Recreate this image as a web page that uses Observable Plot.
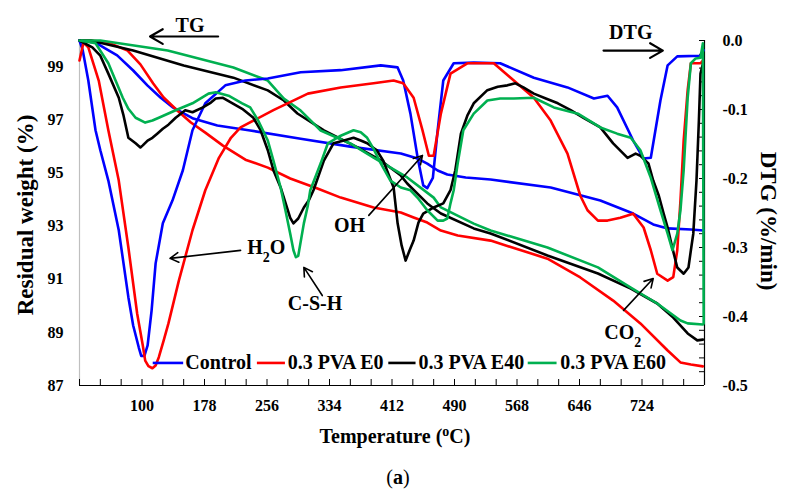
<!DOCTYPE html>
<html><head><meta charset="utf-8">
<script src="https://cdn.jsdelivr.net/npm/d3@7"></script>
<script src="https://cdn.jsdelivr.net/npm/@observablehq/plot@0.6"></script>
<style>body{margin:0;background:#fff} svg{display:block}</style>
</head><body><div id="chart"></div>
<script>
// ---- TG (residual weight, %) ----
const tgControlT = [22, 32, 42, 54, 69, 89, 107, 123, 139, 164, 194, 235, 298, 360, 423, 444, 456, 469, 481, 504, 535, 610, 672, 713, 738, 756, 785, 801];
const tgControlW = [100, 99.96, 99.92, 99.70, 99.44, 98.87, 98.30, 97.85, 97.47, 97.06, 96.80, 96.61, 96.30, 96.00, 95.74, 95.55, 95.36, 95.10, 94.95, 94.84, 94.76, 94.46, 93.97, 93.48, 93.07, 92.92, 92.88, 92.84];
const tgE0T = [22, 36, 58, 82, 98, 114, 127, 144, 161, 179, 201, 229, 257, 285, 319, 348, 389, 423, 439, 456, 473, 494, 535, 606, 647, 688, 722, 756, 772, 785, 800];
const tgE0W = [100, 100, 99.92, 99.62, 99.10, 98.38, 97.85, 97.36, 96.91, 96.53, 96.04, 95.51, 95.21, 94.80, 94.42, 94.08, 93.71, 93.52, 93.33, 93.14, 92.84, 92.65, 92.46, 91.78, 91.07, 90.20, 89.34, 88.32, 87.87, 87.79, 87.72];
const tgE40T = [22, 36, 89, 152, 214, 257, 277, 294, 327, 369, 398, 423, 431, 456, 473, 514, 535, 606, 669, 710, 743, 763, 781, 793, 800];
const tgE40W = [100, 100, 99.62, 99.06, 98.60, 98.12, 97.74, 97.25, 96.61, 95.97, 95.48, 94.91, 94.61, 93.86, 93.48, 92.92, 92.73, 91.90, 91.22, 90.65, 90.09, 89.56, 88.96, 88.70, 88.73];
const tgE60T = [22, 48, 132, 214, 257, 277, 298, 323, 360, 389, 431, 464, 473, 514, 535, 606, 669, 710, 743, 772, 781, 800];
const tgE60W = [100, 100, 99.62, 98.98, 98.49, 97.81, 97.36, 96.61, 96.12, 95.59, 94.84, 94.08, 93.71, 93.10, 92.84, 92.20, 91.45, 90.69, 90.09, 89.45, 89.34, 89.30];

// ---- DTG (%/min) ----
const dtgControlT = [22, 26, 33, 42, 48, 58, 71, 83, 89, 96, 99, 103, 107, 112, 117, 126, 138, 151, 163, 179, 204, 229, 257, 298, 348, 398, 419, 426, 435, 444, 451, 456, 463, 469, 476, 489, 514, 547, 589, 631, 664, 681, 693, 713, 726, 735, 747, 756, 768, 797, 801];
const dtgControlD = [0, -0.014, -0.058, -0.130, -0.159, -0.203, -0.275, -0.372, -0.413, -0.445, -0.457, -0.457, -0.442, -0.391, -0.323, -0.265, -0.232, -0.188, -0.130, -0.091, -0.065, -0.058, -0.055, -0.046, -0.043, -0.036, -0.039, -0.058, -0.106, -0.170, -0.210, -0.214, -0.199, -0.130, -0.058, -0.033, -0.032, -0.033, -0.054, -0.068, -0.084, -0.080, -0.097, -0.145, -0.171, -0.170, -0.087, -0.036, -0.023, -0.022, -0.014];
const dtgE0T = [22, 27, 33, 46, 58, 71, 83, 94, 101, 104, 108, 113, 117, 121, 127, 133, 146, 163, 179, 196, 211, 223, 264, 307, 348, 389, 414, 426, 439, 450, 458, 464, 473, 485, 506, 539, 560, 589, 610, 631, 647, 656, 669, 681, 697, 713, 726, 735, 743, 756, 763, 768, 772, 776, 781, 785, 797, 800];
const dtgE0D = [-0.029, -0.003, -0.010, -0.058, -0.130, -0.203, -0.300, -0.396, -0.442, -0.464, -0.472, -0.475, -0.471, -0.459, -0.435, -0.410, -0.348, -0.275, -0.217, -0.170, -0.141, -0.126, -0.101, -0.077, -0.068, -0.062, -0.058, -0.062, -0.083, -0.130, -0.167, -0.167, -0.106, -0.048, -0.033, -0.033, -0.054, -0.083, -0.116, -0.164, -0.225, -0.246, -0.261, -0.261, -0.257, -0.251, -0.271, -0.304, -0.338, -0.348, -0.343, -0.304, -0.232, -0.145, -0.072, -0.033, -0.033, -0.029];
const dtgE40T = [22, 38, 48, 58, 71, 77, 83, 92, 98, 101, 107, 113, 119, 126, 133, 142, 154, 163, 176, 186, 192, 201, 213, 225, 239, 248, 257, 264, 273, 285, 289, 295, 302, 308, 314, 327, 339, 352, 364, 373, 381, 393, 401, 414, 419, 424, 429, 434, 439, 445, 451, 464, 476, 485, 491, 498, 506, 514, 531, 544, 556, 566, 576, 589, 604, 619, 635, 651, 672, 688, 706, 716, 722, 732, 738, 745, 751, 756, 762, 768, 776, 782, 785, 788, 792, 795, 797, 801];
const dtgE40D = [0, -0.010, -0.022, -0.048, -0.083, -0.109, -0.141, -0.149, -0.155, -0.152, -0.145, -0.141, -0.135, -0.128, -0.122, -0.112, -0.101, -0.104, -0.097, -0.090, -0.084, -0.083, -0.091, -0.099, -0.112, -0.130, -0.159, -0.188, -0.213, -0.257, -0.265, -0.258, -0.242, -0.232, -0.217, -0.174, -0.149, -0.145, -0.141, -0.145, -0.149, -0.159, -0.174, -0.213, -0.265, -0.297, -0.319, -0.304, -0.290, -0.264, -0.251, -0.242, -0.236, -0.217, -0.188, -0.135, -0.109, -0.091, -0.072, -0.067, -0.065, -0.062, -0.068, -0.077, -0.084, -0.091, -0.101, -0.112, -0.126, -0.149, -0.170, -0.164, -0.167, -0.178, -0.203, -0.225, -0.251, -0.271, -0.301, -0.329, -0.338, -0.329, -0.304, -0.280, -0.203, -0.116, -0.048, -0.029];
const dtgE60T = [22, 42, 58, 67, 76, 83, 92, 104, 113, 121, 142, 163, 183, 192, 208, 225, 235, 245, 257, 264, 273, 279, 285, 289, 292, 295, 302, 307, 310, 317, 323, 332, 348, 364, 373, 381, 389, 398, 410, 423, 435, 444, 456, 469, 476, 481, 485, 489, 494, 501, 514, 531, 547, 564, 589, 614, 644, 672, 693, 710, 722, 735, 747, 756, 762, 768, 772, 776, 781, 785, 791, 797, 800, 801];
const dtgE60D = [0, -0.004, -0.033, -0.058, -0.083, -0.099, -0.112, -0.119, -0.116, -0.112, -0.101, -0.091, -0.077, -0.075, -0.080, -0.091, -0.097, -0.116, -0.145, -0.174, -0.213, -0.246, -0.280, -0.304, -0.314, -0.312, -0.265, -0.239, -0.217, -0.196, -0.178, -0.149, -0.138, -0.130, -0.133, -0.141, -0.157, -0.178, -0.203, -0.213, -0.217, -0.228, -0.246, -0.261, -0.261, -0.258, -0.236, -0.217, -0.178, -0.130, -0.106, -0.087, -0.084, -0.084, -0.083, -0.097, -0.106, -0.126, -0.135, -0.141, -0.159, -0.199, -0.246, -0.280, -0.304, -0.280, -0.246, -0.188, -0.083, -0.033, -0.026, -0.025, -0.004, -0.410];

// ---- axes ----
const xTickValues = d3.range(22, 803, 26);
const xTickLabels = [100, 178, 256, 334, 412, 490, 568, 646, 724];
const yTickLabels = [87, 89, 91, 93, 95, 97, 99];
const dtgTickLabels = [0, -0.1, -0.2, -0.3, -0.4, -0.5];
const dtgMinorTicks = d3.range(0, 26).map(i => -i * 0.02);

// legend & annotations
const seriesNames = ["Control", "0.3 PVA E0", "0.3 PVA E40", "0.3 PVA E60"];
const seriesColors = ["#0000ff", "#ff0000", "#000000", "#00b050"];
const legendLineX1 = [114, 244, 408, 582];
const legendLineX2 = [152, 279, 442, 618];
const legendTextX = [154, 282, 445, 622];
const legendY = 87.85;

const annLabels = ["TG", "DTG", "H2O", "C-S-H", "OH", "CO2"];
const annX = [160, 710, 255, 316, 359, 700];
const annY = [100.56, 100.3, 92.2, 90.09, 93.03, 89.0];
const arrX1 = [195, 676, 223, 325, 383, 701];
const arrY1 = [100.15, 99.62, 92.09, 90.39, 93.41, 89.83];
const arrX2 = [110, 750, 135, 302, 450, 738];
const arrY2 = [100.15, 99.62, 91.79, 91.45, 95.67, 91.03];

// right-axis mapping: DTG [-0.5, 0] onto the weight axis [87, 100]
const toW = d => 87 + (d + 0.5) * 26;
const fromW = w => (w - 87) / 26 - 0.5;

const zip = (T, V, f = v => v) => T.map((t, i) => ({t, v: f(V[i])}));
const tgSeries = [zip(tgControlT, tgControlW), zip(tgE0T, tgE0W), zip(tgE40T, tgE40W), zip(tgE60T, tgE60W)];
const dtgSeries = [zip(dtgControlT, dtgControlD, toW), zip(dtgE0T, dtgE0D, toW), zip(dtgE40T, dtgE40D, toW), zip(dtgE60T, dtgE60D, toW)];

const legend = seriesNames.map((n, i) => ({n, c: seriesColors[i], x1: legendLineX1[i], x2: legendLineX2[i], xt: legendTextX[i], y: legendY}));
const anns = annLabels.map((l, i) => ({l, x: annX[i], y: annY[i]}));
const arrows = arrX1.map((x1, i) => ({x1, y1: arrY1[i], x2: arrX2[i], y2: arrY2[i], big: i < 2}));

const FONT = "Liberation Serif";
const W = 794, H = 495, ML = 79, MR = 90, MT = 40, MB = 110;
const plotW = W - ML - MR, plotH = H - MT - MB;

const marks = [];
marks.push(Plot.ruleX([22], {stroke: "#bfbfbf", strokeWidth: 1.2}));
marks.push(Plot.ruleX([802], {stroke: "#000", strokeWidth: 1.2}));
marks.push(Plot.ruleY([87], {stroke: "#000", strokeWidth: 1.2}));
marks.push(Plot.tickX(xTickValues, {x: d => d, insetTop: plotH - 6, stroke: "#000"}));
marks.push(Plot.tickY(dtgMinorTicks.map(toW), {y: d => d, insetLeft: plotW - 5, stroke: "#000"}));
marks.push(Plot.axisX({ticks: xTickLabels, tickSize: 0, tickPadding: 14, label: null, fontSize: 16, fontWeight: "bold", fontFamily: FONT, fill: "#000"}));
marks.push(Plot.axisY({ticks: yTickLabels, anchor: "left", tickSize: 0, tickPadding: 16, label: null, fontSize: 16, fontWeight: "bold", fontFamily: FONT, fill: "#000"}));
marks.push(Plot.axisY({ticks: dtgTickLabels.map(toW), anchor: "right", tickSize: 0, tickPadding: 18, label: null, tickFormat: w => fromW(w).toFixed(1), fontSize: 16, fontWeight: "bold", fontFamily: FONT, fill: "#000"}));

tgSeries.forEach((s, i) => marks.push(Plot.line(s, {x: "t", y: "v", stroke: seriesColors[i], strokeWidth: 2.6})));
dtgSeries.forEach((s, i) => marks.push(Plot.line(s, {x: "t", y: "v", stroke: seriesColors[i], strokeWidth: 2.6})));

marks.push(Plot.ruleY(legend, {y: "y", x1: "x1", x2: "x2", stroke: "c", strokeWidth: 2.6}));
marks.push(Plot.text(legend, {x: "xt", y: "y", text: "n", textAnchor: "start", fontSize: 20, fontWeight: "bold", fontFamily: FONT, fill: "#000"}));

marks.push(Plot.arrow(arrows.filter(a => a.big), {x1: "x1", y1: "y1", x2: "x2", y2: "y2", stroke: "#000", strokeWidth: 2.2, headLength: 10}));
marks.push(Plot.arrow(arrows.filter(a => !a.big), {x1: "x1", y1: "y1", x2: "x2", y2: "y2", stroke: "#000", strokeWidth: 1.6, headLength: 9}));
marks.push(Plot.text(anns, {x: "x", y: "y", text: "l", fontSize: 20, fontWeight: "bold", fontFamily: FONT, fill: "#000"}));

marks.push(Plot.text(["Residual weight (%)"], {frameAnchor: "left", textAnchor: "middle", rotate: -90, dx: -54, dy: 2, fontSize: 23, fontWeight: "bold", fontFamily: FONT, fill: "#000"}));
marks.push(Plot.text(["DTG (%/min)"], {frameAnchor: "right", textAnchor: "middle", rotate: 90, dx: 64, dy: 8, fontSize: 23, fontWeight: "bold", fontFamily: FONT, fill: "#000"}));
marks.push(Plot.text(["Temperature (oC)"], {frameAnchor: "bottom", dx: 3, dy: 57, fontSize: 20, fontWeight: "bold", fontFamily: FONT, fill: "#000"}));
marks.push(Plot.text(["(a)"], {frameAnchor: "bottom", dx: 6, dy: 98, fontSize: 20, fontFamily: FONT, fill: "#000"}));

const chart = Plot.plot({
  width: W, height: H,
  marginLeft: ML, marginRight: MR, marginTop: MT, marginBottom: MB,
  x: {domain: [22, 802]},
  y: {domain: [87, 100]},
  style: {fontFamily: FONT, background: "#fff", color: "#000", overflow: "visible"},
  marks
});

// rich text: sub/superscripts and bold letter
chart.querySelectorAll("text").forEach(t => {
  const s = t.textContent;
  if (s === "H2O") t.innerHTML = 'H<tspan baseline-shift="sub" font-size="0.7em">2</tspan>O';
  else if (s === "CO2") t.innerHTML = 'CO<tspan baseline-shift="sub" font-size="0.7em">2</tspan>';
  else if (s === "Temperature (oC)") t.innerHTML = 'Temperature (<tspan baseline-shift="super" font-size="0.7em">o</tspan>C)';
  else if (s === "(a)") t.innerHTML = '(<tspan font-weight="bold">a</tspan>)';
});
document.getElementById("chart").appendChild(chart);
</script></body></html>
